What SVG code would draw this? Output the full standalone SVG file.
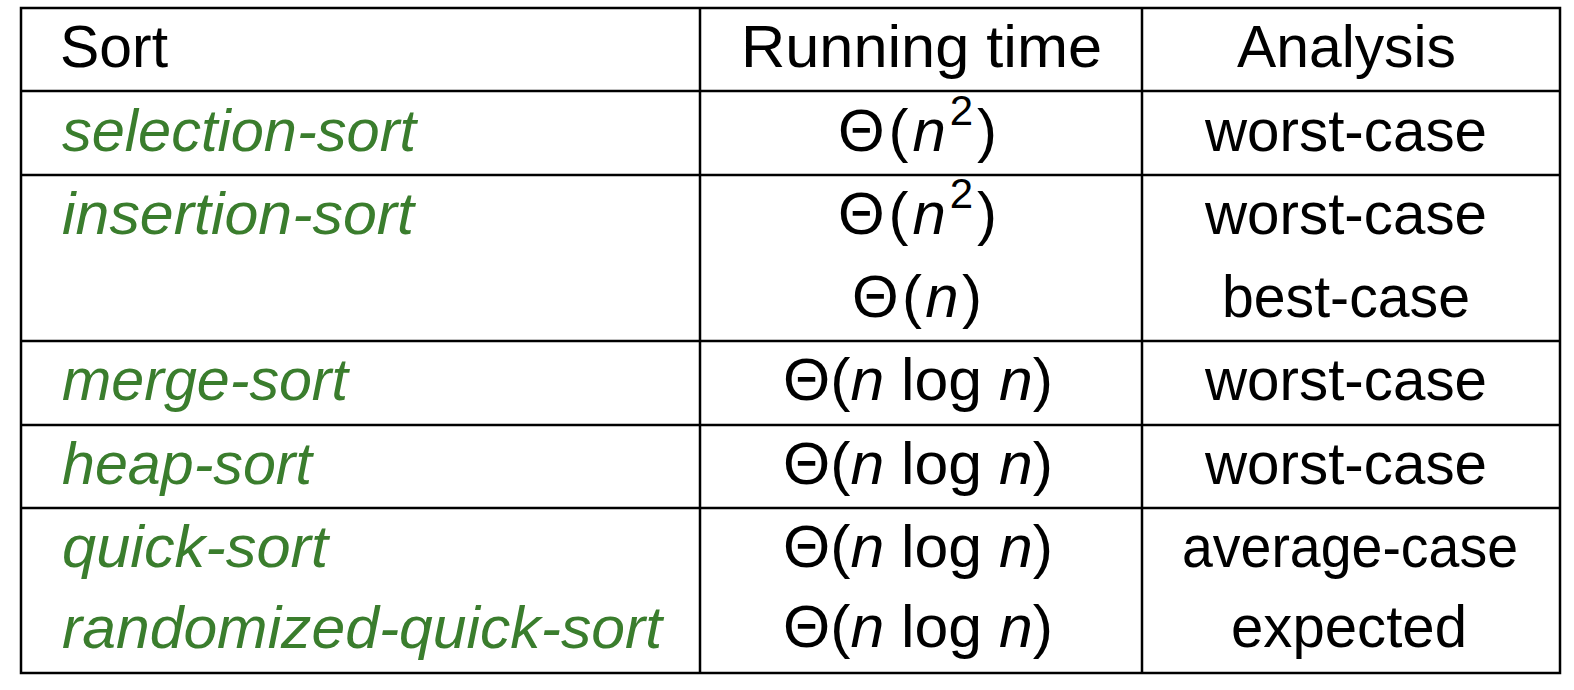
<svg xmlns="http://www.w3.org/2000/svg" width="1574" height="690" viewBox="0 0 1574 690">
<style>
text{font-family:"Liberation Sans","DejaVu Sans",sans-serif;font-size:60px;fill:#000}
.g{fill:#3a7d2d;font-style:italic}
.i{font-style:italic}
.s{font-size:42px}
line{stroke:#000;stroke-width:2.5}
</style>
<rect width="1574" height="690" fill="#fff"/>
<g id="grid">
<rect x="21" y="8" width="1539" height="665" fill="none" stroke="#000" stroke-width="2.5"/>
<line x1="700" y1="8" x2="700" y2="673"/>
<line x1="1142" y1="8" x2="1142" y2="673"/>
<line x1="21" y1="91" x2="1560" y2="91"/>
<line x1="21" y1="175" x2="1560" y2="175"/>
<line x1="21" y1="341" x2="1560" y2="341"/>
<line x1="21" y1="425" x2="1560" y2="425"/>
<line x1="21" y1="508" x2="1560" y2="508"/>
</g>
<g id="header">
<text x="60" y="67" textLength="108" lengthAdjust="spacingAndGlyphs">Sort</text>
<text x="741" y="67" textLength="361" lengthAdjust="spacingAndGlyphs">Running time</text>
<text x="1237" y="67" textLength="219" lengthAdjust="spacingAndGlyphs">Analysis</text>
</g>
<g id="sorts">
<text class="g" x="62" y="151" textLength="354" lengthAdjust="spacingAndGlyphs">selection-sort</text>
<text class="g" x="62" y="234" textLength="352" lengthAdjust="spacingAndGlyphs">insertion-sort</text>
<text class="g" x="62" y="400" textLength="286" lengthAdjust="spacingAndGlyphs">merge-sort</text>
<text class="g" x="62" y="484" textLength="250" lengthAdjust="spacingAndGlyphs">heap-sort</text>
<text class="g" x="62" y="567" textLength="266" lengthAdjust="spacingAndGlyphs">quick-sort</text>
<text class="g" x="62" y="648" textLength="600" lengthAdjust="spacingAndGlyphs">randomized-quick-sort</text>
</g>
<g id="times">
<text x="838" y="151" textLength="159" lengthAdjust="spacing">Θ(<tspan class="i">n</tspan><tspan class="s" dy="-26">2</tspan><tspan dy="26">)</tspan></text>
<text x="838" y="234" textLength="159" lengthAdjust="spacing">Θ(<tspan class="i">n</tspan><tspan class="s" dy="-26">2</tspan><tspan dy="26">)</tspan></text>
<text x="852" y="317" textLength="130" lengthAdjust="spacing">Θ(<tspan class="i">n</tspan>)</text>
<text x="783" y="400" textLength="270" lengthAdjust="spacingAndGlyphs">Θ(<tspan class="i">n</tspan> log <tspan class="i">n</tspan>)</text>
<text x="783" y="484" textLength="270" lengthAdjust="spacingAndGlyphs">Θ(<tspan class="i">n</tspan> log <tspan class="i">n</tspan>)</text>
<text x="783" y="567" textLength="270" lengthAdjust="spacingAndGlyphs">Θ(<tspan class="i">n</tspan> log <tspan class="i">n</tspan>)</text>
<text x="783" y="647" textLength="270" lengthAdjust="spacingAndGlyphs">Θ(<tspan class="i">n</tspan> log <tspan class="i">n</tspan>)</text>
</g>
<g id="analysis">
<text x="1205" y="151" textLength="282" lengthAdjust="spacingAndGlyphs">worst-case</text>
<text x="1205" y="234" textLength="282" lengthAdjust="spacingAndGlyphs">worst-case</text>
<text x="1222" y="317" textLength="248" lengthAdjust="spacingAndGlyphs">best-case</text>
<text x="1205" y="400" textLength="282" lengthAdjust="spacingAndGlyphs">worst-case</text>
<text x="1205" y="484" textLength="282" lengthAdjust="spacingAndGlyphs">worst-case</text>
<text x="1182" y="567" textLength="336" lengthAdjust="spacingAndGlyphs">average-case</text>
<text x="1231" y="647" textLength="236" lengthAdjust="spacingAndGlyphs">expected</text>
</g>
</svg>
